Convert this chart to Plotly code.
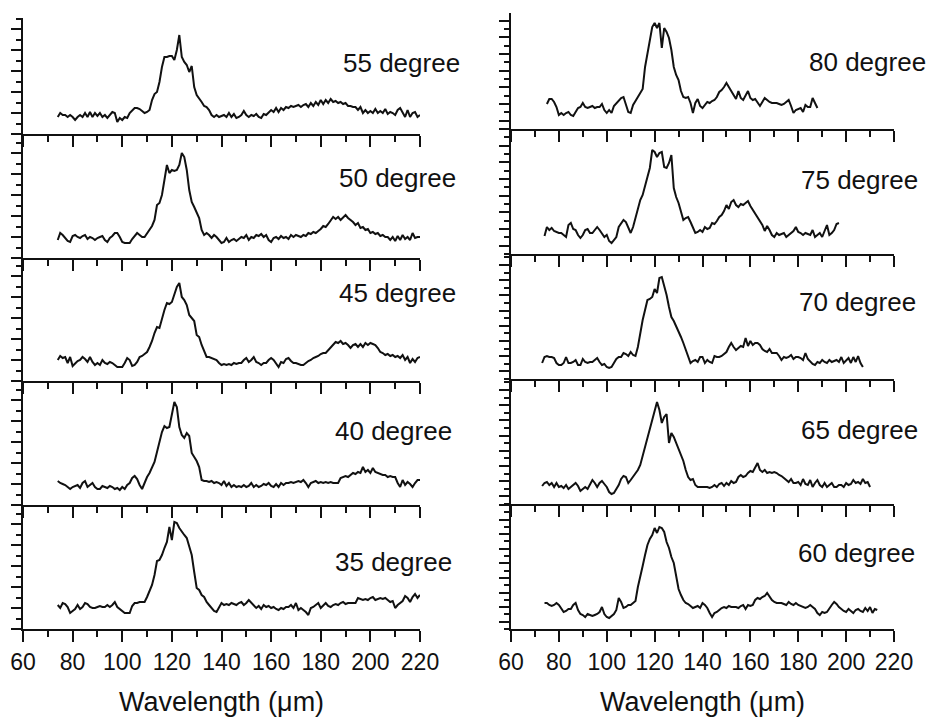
import plotly.graph_objects as go

# ---------------- data (intensity, arbitrary units; wavelength step 1 um) ----------------
# left column
deg55_start = 74
deg55 = [17, 21, 19, 19, 17, 19,
         17, 14, 17, 19, 17, 21, 17, 22, 17, 21,
         18, 21, 17, 19, 16, 19, 22, 21, 12, 16,
         14, 17, 16, 21, 24, 26, 26, 25, 23, 21,
         22, 24, 34, 40, 42, 52, 67, 77, 77, 78,
         78, 74, 84, 99, 77, 72, 69, 62, 68, 47,
         39, 36, 32, 28, 27, 24, 19, 17, 19, 17,
         18, 19, 17, 21, 17, 20, 16, 17, 19, 23,
         19, 17, 19, 18, 20, 17, 16, 20, 19, 22,
         24, 22, 26, 22, 26, 24, 27, 26, 28, 27,
         28, 29, 27, 29, 30, 27, 31, 28, 32, 29,
         34, 30, 34, 31, 35, 32, 33, 31, 32, 30,
         31, 28, 28, 27, 27, 24, 27, 21, 24, 21,
         23, 21, 25, 21, 23, 21, 25, 20, 22, 21,
         19, 24, 26, 22, 17, 24, 17, 21, 22, 17, 19]

deg50_start = 74
deg50 = [18, 25, 23, 20, 17, 16,
         22, 23, 21, 20, 22, 23, 19, 21, 20, 18,
         20, 21, 22, 18, 16, 20, 22, 25, 25, 21,
         16, 15, 15, 15, 19, 22, 25, 23, 21, 21,
         25, 28, 32, 38, 53, 55, 63, 78, 93, 85,
         88, 87, 88, 93, 105, 101, 88, 68, 56, 51,
         46, 40, 28, 23, 25, 23, 20, 23, 21, 18,
         15, 16, 20, 16, 18, 19, 17, 19, 21, 20,
         23, 18, 21, 20, 23, 22, 24, 21, 23, 18,
         16, 20, 21, 19, 22, 20, 21, 19, 23, 21,
         23, 22, 21, 23, 22, 25, 24, 26, 25, 27,
         29, 32, 31, 34, 38, 41, 39, 41, 38, 41,
         43, 40, 38, 36, 33, 35, 30, 31, 28, 29,
         25, 26, 24, 25, 22, 23, 21, 21, 18, 21,
         17, 22, 18, 23, 19, 21, 18, 25, 20, 21, 21]

deg45_start = 74
deg45 = [21, 25, 23, 24, 18, 24,
         15, 18, 20, 21, 24, 22, 19, 24, 19, 16,
         18, 16, 21, 18, 17, 19, 18, 16, 14, 14,
         14, 18, 23, 21, 15, 16, 19, 24, 25, 27,
         29, 34, 40, 48, 54, 53, 63, 71, 78, 77,
         79, 86, 94, 98, 84, 81, 76, 66, 63, 60,
         46, 44, 36, 29, 24, 24, 23, 22, 21, 18,
         16, 17, 16, 17, 16, 18, 17, 18, 18, 21,
         23, 19, 21, 24, 19, 18, 16, 18, 18, 21,
         23, 21, 18, 14, 19, 18, 22, 23, 20, 18,
         18, 17, 16, 16, 18, 20, 21, 23, 24, 25,
         27, 28, 28, 31, 33, 36, 39, 38, 40, 37,
         38, 36, 33, 36, 37, 34, 37, 34, 38, 36,
         38, 37, 36, 33, 29, 28, 26, 27, 25, 26,
         24, 25, 23, 26, 21, 24, 18, 22, 19, 23, 24]

deg40_start = 74
deg40 = [24, 22, 21, 20, 18, 16,
         18, 19, 20, 17, 22, 24, 18, 20, 22, 18,
         16, 16, 19, 18, 17, 19, 18, 16, 17, 15,
         18, 16, 20, 22, 27, 29, 26, 20, 16, 22,
         28, 32, 37, 43, 53, 62, 73, 79, 77, 78,
         90, 103, 98, 78, 70, 67, 72, 69, 52, 48,
         44, 38, 25, 24, 24, 23, 24, 22, 23, 22,
         20, 24, 19, 22, 18, 20, 18, 19, 18, 20,
         18, 19, 22, 18, 20, 18, 19, 21, 20, 22,
         19, 18, 21, 18, 22, 20, 22, 22, 23, 22,
         23, 24, 23, 25, 22, 18, 22, 23, 24, 22,
         23, 22, 23, 22, 23, 22, 22, 22, 27, 28,
         29, 28, 30, 32, 31, 33, 32, 38, 33, 35,
         32, 37, 33, 32, 31, 30, 30, 28, 29, 28,
         28, 22, 18, 25, 20, 23, 21, 18, 22, 25, 25]

deg35_start = 74
deg35 = [24, 21, 26, 25, 22, 16,
         18, 20, 24, 20, 22, 26, 25, 22, 21, 21,
         22, 23, 22, 22, 24, 22, 24, 27, 22, 20,
         18, 16, 16, 16, 23, 26, 26, 27, 27, 27,
         32, 39, 44, 54, 68, 69, 74, 81, 87, 102,
         89, 107, 106, 101, 97, 94, 91, 81, 74, 57,
         41, 39, 34, 32, 27, 24, 21, 18, 17, 22,
         26, 24, 25, 24, 26, 25, 24, 26, 27, 24,
         26, 29, 26, 24, 21, 23, 20, 24, 22, 23,
         21, 22, 20, 19, 21, 20, 22, 22, 24, 21,
         26, 19, 21, 19, 17, 14, 21, 22, 24, 26,
         21, 24, 26, 23, 22, 24, 25, 24, 26, 27,
         25, 26, 26, 26, 26, 31, 30, 29, 30, 29,
         31, 32, 29, 30, 31, 30, 31, 29, 27, 28,
         21, 24, 26, 28, 33, 31, 27, 32, 35, 31, 34]

# right column
deg80_start = 75
deg80 = [25, 30, 30, 27, 22,
         14, 16, 14, 16, 17, 14, 13, 17, 21, 22,
         26, 22, 21, 22, 23, 21, 22, 22, 25, 19,
         16, 19, 16, 23, 26, 29, 31, 32, 24, 17,
         16, 24, 28, 32, 35, 40, 62, 76, 87, 102,
         106, 101, 106, 81, 101, 97, 91, 79, 62, 54,
         49, 38, 32, 31, 32, 26, 16, 26, 30, 23,
         21, 24, 27, 26, 28, 29, 32, 37, 39, 42,
         46, 42, 38, 34, 30, 38, 31, 29, 33, 38,
         31, 29, 30, 27, 23, 27, 31, 29, 27, 26,
         26, 26, 25, 24, 25, 27, 29, 23, 16, 19,
         20, 21, 17, 24, 22, 22, 31, 26, 21]

deg75_start = 74
deg75 = [18, 27, 24, 26, 23, 22,
         21, 21, 19, 17, 29, 31, 25, 24, 19, 16,
         19, 24, 25, 21, 21, 24, 27, 24, 20, 17,
         19, 13, 11, 14, 17, 27, 31, 34, 32, 27,
         21, 27, 36, 46, 54, 59, 67, 77, 86, 104,
         102, 97, 101, 102, 87, 86, 91, 99, 66, 57,
         51, 41, 34, 36, 37, 32, 27, 21, 22, 24,
         22, 27, 25, 26, 31, 30, 33, 37, 39, 43,
         49, 45, 52, 54, 49, 47, 50, 49, 51, 53,
         48, 44, 40, 36, 33, 29, 23, 28, 24, 19,
         17, 21, 19, 20, 21, 17, 19, 21, 23, 27,
         22, 21, 19, 21, 20, 19, 24, 17, 19, 21,
         17, 24, 29, 19, 21, 24, 30, 31]

deg70_start = 73
deg70 = [16, 22, 23, 22, 22, 21, 16,
         14, 14, 16, 22, 16, 16, 17, 19, 14, 14,
         20, 17, 16, 17, 17, 19, 21, 17, 14, 15,
         12, 11, 12, 16, 20, 22, 22, 26, 25, 23,
         27, 24, 23, 32, 47, 59, 69, 79, 80, 82,
         90, 86, 101, 102, 93, 84, 72, 62, 58, 53,
         47, 42, 36, 29, 22, 16, 18, 19, 17, 22,
         22, 16, 19, 17, 16, 23, 22, 22, 23, 25,
         27, 32, 36, 32, 29, 31, 33, 32, 41, 33,
         38, 34, 36, 36, 34, 30, 28, 27, 30, 26,
         26, 26, 23, 19, 22, 21, 22, 24, 20, 22,
         22, 21, 19, 26, 20, 17, 15, 14, 17, 16,
         19, 17, 16, 19, 17, 18, 19, 17, 22, 16,
         19, 21, 16, 22, 17, 23, 16, 12]

deg65_start = 73
deg65 = [18, 21, 22, 19, 21, 17, 21,
         17, 18, 16, 19, 15, 17, 19, 21, 18, 13,
         15, 17, 15, 19, 24, 21, 17, 21, 23, 20,
         17, 12, 10, 11, 15, 19, 25, 28, 27, 21,
         24, 27, 30, 34, 39, 48, 57, 66, 74, 84,
         92, 102, 94, 81, 87, 90, 61, 71, 67, 61,
         55, 49, 43, 34, 27, 24, 25, 19, 17, 17,
         17, 17, 17, 16, 17, 19, 17, 20, 21, 18,
         21, 19, 23, 21, 22, 27, 29, 27, 28, 31,
         33, 32, 37, 41, 34, 32, 34, 31, 32, 31,
         32, 31, 29, 28, 26, 24, 22, 25, 21, 21,
         22, 19, 25, 20, 19, 24, 17, 21, 24, 19,
         17, 21, 17, 19, 21, 17, 17, 19, 19, 17,
         21, 19, 20, 24, 21, 22, 20, 25, 21, 22, 17]

deg60_start = 74
deg60 = [26, 26, 24, 23, 24, 26,
         24, 20, 17, 18, 20, 20, 24, 26, 19, 15,
         14, 12, 15, 14, 13, 14, 15, 17, 22, 15,
         12, 11, 13, 15, 19, 31, 27, 21, 22, 24,
         24, 26, 28, 42, 54, 63, 74, 84, 90, 94,
         101, 96, 102, 101, 97, 87, 81, 72, 66, 52,
         40, 34, 29, 26, 25, 23, 21, 22, 23, 21,
         26, 24, 21, 16, 12, 16, 17, 19, 21, 22,
         21, 23, 22, 22, 22, 21, 23, 24, 20, 24,
         23, 24, 29, 31, 30, 32, 33, 36, 32, 29,
         27, 26, 26, 26, 25, 24, 27, 25, 24, 26,
         24, 23, 22, 21, 22, 24, 22, 20, 16, 14,
         17, 16, 17, 21, 24, 27, 25, 22, 20, 18,
         17, 20, 18, 16, 19, 20, 18, 17, 21, 18,
         22, 16, 20, 19]

labels = ["55 degree", "50 degree", "45 degree", "40 degree", "35 degree",
          "80 degree", "75 degree", "70 degree", "65 degree", "60 degree"]
x_ticks = [60, 80, 100, 120, 140, 160, 180, 200, 220]
x_title = "Wavelength (μm)"

# ---------------- layout geometry ----------------
W, H = 936, 722
FONT = "Liberation Sans, Arial, Helvetica, sans-serif"
INK = "#111111"

series = [deg55, deg50, deg45, deg40, deg35, deg80, deg75, deg70, deg65, deg60]
starts = [deg55_start, deg50_start, deg45_start, deg40_start, deg35_start,
          deg80_start, deg75_start, deg70_start, deg65_start, deg60_start]
# (column, top px, bottom px, minor tick spacing, label left px, label centre px)
geom = [
    (0, 18, 134, 10.5, 341, 63),
    (0, 134, 258, 10.5, 337, 178),
    (0, 258, 381, 10.5, 337, 293),
    (0, 381, 505, 10.5, 333, 431),
    (0, 505, 629, 10.5, 333, 562),
    (1, 13, 129, 8.33, 807, 62),
    (1, 129, 254, 8.33, 799, 180),
    (1, 254, 379, 7.6, 797, 302),
    (1, 379, 504, 7.6, 799, 430),
    (1, 504, 629, 7.3, 796, 553),
]
col_x = {0: (23, 420), 1: (511, 894)}

fig = go.Figure()
layout = dict(width=W, height=H, autosize=False,
              margin=dict(l=0, r=0, t=0, b=0, pad=0, autoexpand=False),
              paper_bgcolor="white", plot_bgcolor="rgba(0,0,0,0)",
              showlegend=False, font=dict(family=FONT, color=INK))
annotations = []

for i, (ys, x0, g) in enumerate(zip(series, starts, geom)):
    col, top, bot, mstep, lx, ly = g
    k = i + 1
    xn = "x" if k == 1 else f"x{k}"
    yn = "y" if k == 1 else f"y{k}"
    xs = list(range(x0, x0 + len(ys)))
    fig.add_trace(go.Scatter(x=xs, y=ys, xaxis=xn, yaxis=yn, mode="lines",
                             line=dict(color=INK, width=2), hoverinfo="skip"))
    xa, xb = col_x[col]
    is_bottom = bot == 629
    layout["xaxis" if k == 1 else f"xaxis{k}"] = dict(
        domain=[xa / W, xb / W], anchor=yn, range=[60, 220], automargin=False,
        tickmode="array", tickvals=x_ticks, ticktext=[str(v) for v in x_ticks],
        showticklabels=is_bottom, tickfont=dict(size=23, family=FONT, color=INK),
        ticks="outside", ticklen=11, tickwidth=2, tickcolor=INK,
        minor=dict(ticks="outside", ticklen=6, tickwidth=2, tickcolor=INK,
                   tickmode="linear", tick0=60, dtick=10),
        showline=True, linewidth=2, linecolor=INK,
        showgrid=False, zeroline=False, fixedrange=True)
    left_col = col == 0
    layout["yaxis" if k == 1 else f"yaxis{k}"] = dict(
        domain=[1 - bot / H, 1 - top / H], anchor=xn, range=[0, bot - top], automargin=False,
        tickmode="linear", tick0=(0 if left_col else mstep), dtick=2 * mstep,
        showticklabels=False,
        ticks="outside", ticklen=10, tickwidth=1.6, tickcolor=INK,
        minor=dict(ticks="outside", ticklen=5, tickwidth=1.6, tickcolor=INK,
                   tickmode="linear", tick0=0, dtick=mstep),
        showline=True, linewidth=2, linecolor=INK,
        showgrid=False, zeroline=False, fixedrange=True)
    annotations.append(dict(text=labels[i], x=lx / W, y=1 - ly / H,
                            xref="paper", yref="paper", xanchor="left", yanchor="middle",
                            showarrow=False, font=dict(size=26, family=FONT, color=INK)))

for cx in (221.5, 702):
    annotations.append(dict(text=x_title, x=cx / W, y=1 - 702 / H,
                            xref="paper", yref="paper", xanchor="center", yanchor="middle",
                            showarrow=False, font=dict(size=27, family=FONT, color=INK)))

layout["annotations"] = annotations
fig.update_layout(**layout)
fig.write_html("out.html", config={"displayModeBar": False},
               post_script="document.body.style.margin='0';document.body.style.overflow='hidden';")
